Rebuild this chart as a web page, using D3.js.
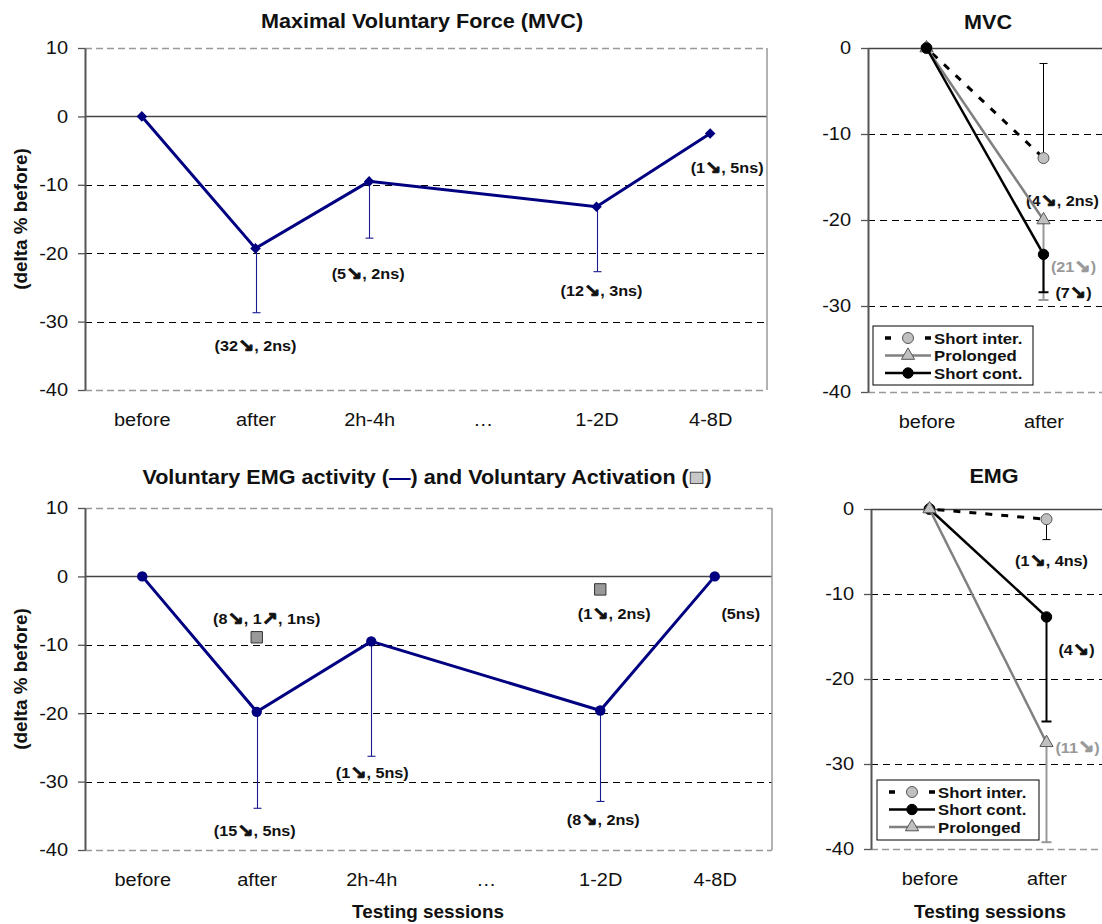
<!DOCTYPE html>
<html><head><meta charset="utf-8">
<script src="https://cdn.jsdelivr.net/npm/d3@7"></script>
<style>body{margin:0;background:#fff}</style>
</head><body><svg id="c" width="1102" height="924"></svg>
<script>
// ---------- DATA ----------
const sessions = ["before","after","2h-4h","…","1-2D","4-8D"];
const yTicksLeft = [10,0,-10,-20,-30,-40];
const mvcMean  = [0,-19.3,-9.5,null,-13.2,-2.5];
const mvcLow   = [null,-28.7,-17.8,null,-22.7,null];
const mvcNotes = [null,"(32↘, 2ns)","(5↘, 2ns)",null,"(12↘, 3ns)","(1↘, 5ns)"];
const emgMean  = [0,-19.8,-9.5,null,-19.6,0];
const emgLow   = [null,-33.9,-26.3,null,-32.9,null];
const emgNotes = [null,"(15↘, 5ns)","(1↘, 5ns)",null,"(8↘, 2ns)","(5ns)"];
const vaMean   = [null,-8.9,null,null,-1.9,null];
const vaNotes  = [null,"(8↘, 1↗, 1ns)",null,null,"(1↘, 2ns)",null];

const groups = ["before","after"];
const yTicksRight = [0,-10,-20,-30,-40];
const mvcNames = ["Short inter.","Prolonged","Short cont."];
const mvcShortInter = [0,-12.8], mvcShortInterErr = [null,-1.8];
const mvcProlonged  = [0,-20.0], mvcProlongedErr  = [null,-29.3];
const mvcShortCont  = [0,-24.0], mvcShortContErr  = [null,-28.4];
const mvcRightNotes = ["(4↘, 2ns)","(21↘)","(7↘)"];
const emgNames = ["Short inter.","Short cont.","Prolonged"];
const emgShortInter = [0,-1.2],  emgShortInterErr = [null,-3.6];
const emgShortCont  = [0,-12.7], emgShortContErr  = [null,-25.0];
const emgProlonged  = [0,-27.5], emgProlongedErr  = [null,-39.2];
const emgRightNotes = ["(1↘, 4ns)","(4↘)","(11↘)"];

// ---------- HELPERS ----------
const SX = 1.08;
const FF = '"Liberation Sans", Arial, Helvetica, sans-serif';
const svg = d3.select("#c");

function label(parent, x, y, s, o = {}) {
  return parent.append("text")
    .attr("transform", `translate(${x},${y})${o.rotate ? ` rotate(${o.rotate})` : ""} scale(${SX},1)`)
    .attr("text-anchor", o.anchor || "middle")
    .attr("dominant-baseline", "central")
    .attr("font-family", FF)
    .attr("font-size", o.size || 15)
    .attr("font-weight", o.bold ? "bold" : "normal")
    .attr("fill", o.fill || "#111")
    .text(s);
}
// note text with enlarged arrow glyphs
function note(parent, x, y, s, o = {}) {
  const t = label(parent, x, y, "", o);
  s.split(/([↘↗])/).forEach(part => {
    if (!part) return;
    const sp = t.append("tspan").text(part);
    if (part === "↘" || part === "↗")
      sp.attr("font-family", '"DejaVu Sans", sans-serif').attr("font-size", (o.size || 15) * 1.2)
        .attr("font-weight", "bold").attr("stroke", o.fill || "#111").attr("stroke-width", 0.9);
  });
  return t;
}

function panel(o) {
  const x = d3.scalePoint().domain(o.cats).range([o.left, o.right]).padding(0.5);
  const y = d3.scaleLinear().domain(o.yDomain).range([o.bottom, o.top]);
  const g = svg.append("g");
  const [lo, hi] = o.yDomain;
  o.ticks.forEach(t => {
    const yy = Math.round(y(t)) + 0.5;
    const ln = g.append("line").attr("x1", o.left).attr("x2", o.right)
      .attr("y1", yy).attr("y2", yy);
    if (t === 0) ln.attr("stroke", "#444").attr("stroke-width", 1.4);
    else if (t === lo || t === hi) ln.attr("stroke", "#999").attr("stroke-width", 1.5).attr("stroke-dasharray", "7,4");
    else ln.attr("stroke", "#000").attr("stroke-width", 1).attr("stroke-dasharray", "7,5");
  });
  if (o.rightBorder) g.append("line").attr("x1", o.right).attr("x2", o.right)
    .attr("y1", o.top).attr("y2", o.bottom).attr("stroke", "#999").attr("stroke-width", 1.5);
  const ax = g.append("g").attr("transform", `translate(${o.left},0)`)
    .call(d3.axisLeft(y).tickValues(o.ticks).tickSize(7).tickSizeOuter(0).tickPadding(10).tickFormat(d => String(d)));
  ax.select(".domain").attr("stroke", "#555").attr("stroke-width", 2);
  ax.selectAll(".tick line").attr("stroke", "#555").attr("stroke-width", 1.3);
  ax.selectAll(".tick text").attr("font-size", 18.5).attr("font-family", FF).attr("fill", "#111")
    .each(function () { const s = d3.select(this); s.attr("x", (+s.attr("x")) / SX).attr("transform", `scale(${SX},1)`); });
  const bx = g.append("g").attr("transform", `translate(0,${o.bottom})`)
    .call(d3.axisBottom(x).tickSize(0).tickPadding(o.xPad));
  bx.select(".domain").remove();
  bx.selectAll(".tick text").attr("font-size", 18.5).attr("font-family", FF).attr("fill", "#111")
    .attr("transform", `scale(${SX},1)`);
  return { x, y, g };
}

// ---------- LEFT PANELS ----------
function leftPanel(o, mean, low, notes, noteOff, marker) {
  const p = panel(o);
  const pts = sessions.map((c, i) => ({ c, v: mean[i], lo: low[i], note: notes[i], off: noteOff[i] }));
  const def = pts.filter(d => d.v !== null);
  def.filter(d => d.lo !== null).forEach(d => {
    const cx = Math.round(p.x(d.c)) + 0.5;
    p.g.append("line").attr("x1", cx).attr("x2", cx).attr("y1", p.y(d.v)).attr("y2", p.y(d.lo))
      .attr("stroke", "#1a1a90").attr("stroke-width", 1.1);
    p.g.append("line").attr("x1", cx - 4).attr("x2", cx + 4).attr("y1", p.y(d.lo)).attr("y2", p.y(d.lo))
      .attr("stroke", "#1a1a90").attr("stroke-width", 1.1);
  });
  p.g.append("path").datum(def)
    .attr("d", d3.line().x(d => p.x(d.c)).y(d => p.y(d.v)))
    .attr("fill", "none").attr("stroke", "#000080").attr("stroke-width", 3);
  const sym = marker === "diamond"
    ? d3.symbol().type(d3.symbolSquare).size(56)
    : d3.symbol().type(d3.symbolCircle).size(85);
  p.g.selectAll(".mk").data(def).join("path")
    .attr("d", sym)
    .attr("transform", d => `translate(${p.x(d.c)},${p.y(d.v)})${marker === "diamond" ? " rotate(45)" : ""}`)
    .attr("fill", "#000080");
  def.filter(d => d.note).forEach(d => {
    note(p.g, p.x(d.c) + d.off[0], p.y(d.v) + d.off[1], d.note, { size: 15, bold: true });
  });
  return p;
}

// Top-left: MVC
const pTL = leftPanel(
  { cats: sessions, left: 85, right: 767, top: 48, bottom: 390, yDomain: [-40, 10], ticks: yTicksLeft, rightBorder: true, xPad: 23 },
  mvcMean, mvcLow, mvcNotes,
  [null, [0, 97], [-1, 92], null, [5, 84], [17, 34]], "diamond");
label(svg, 422, 21, "Maximal Voluntary Force (MVC)", { size: 20, bold: true });
label(svg, 21, 219, "(delta % before)", { size: 17.5, bold: true, rotate: -90 });

// Bottom-left: EMG + VA
const pBL = leftPanel(
  { cats: sessions, left: 85, right: 772, top: 508, bottom: 850, yDomain: [-40, 10], ticks: yTicksLeft, rightBorder: true, xPad: 23 },
  emgMean, emgLow, emgNotes,
  [null, [-2, 118], [1, 131], null, [3, 109], [26, 37]], "circle");
const vaOff = [null, [10, -19], null, null, [14, 24], null];
sessions.forEach((c, i) => {
  if (vaMean[i] === null) return;
  const cx = pBL.x(c), cy = pBL.y(vaMean[i]);
  pBL.g.append("path").attr("d", d3.symbol().type(d3.symbolSquare).size(130))
    .attr("transform", `translate(${cx},${cy})`)
    .attr("fill", "#999").attr("stroke", "#333").attr("stroke-width", 1);
  note(pBL.g, cx + vaOff[i][0], cy + vaOff[i][1], vaNotes[i], { size: 15, bold: true });
});
{
  const t = label(svg, 427, 476, "", { size: 20, bold: true });
  t.append("tspan").text("Voluntary EMG activity (");
  t.append("tspan").attr("fill", "#000080").text("—");
  t.append("tspan").text(") and Voluntary Activation (");
  t.append("tspan").attr("fill", "#c8c8c8").attr("stroke", "#333").attr("stroke-width", 0.8)
    .attr("font-size", 24).text("■");
  t.append("tspan").text(")");
}
label(svg, 21, 679, "(delta % before)", { size: 17.5, bold: true, rotate: -90 });
label(svg, 428, 912, "Testing sessions", { size: 17.5, bold: true });

// ---------- RIGHT PANELS ----------
const styles = {
  "Short inter.": { stroke: "#000", width: 3, dash: "7,9", marker: "circle", fill: "#c0c0c0", mstroke: "#555",
                    ebStroke: "#000", ebWidth: 1, cap: 4, note: "#111" },
  "Prolonged":    { stroke: "#808080", width: 2.5, dash: null, marker: "triangle", fill: "#c0c0c0", mstroke: "#555",
                    ebStroke: "#999", ebWidth: 2, cap: 5, note: "#999" },
  "Short cont.":  { stroke: "#000", width: 2.5, dash: null, marker: "circle", fill: "#000", mstroke: "#000",
                    ebStroke: "#000", ebWidth: 2, cap: 5, note: "#111" }
};
function markerPath(st) {
  return st.marker === "triangle"
    ? d3.symbol().type(d3.symbolTriangle).size(75)()
    : d3.symbol().type(d3.symbolCircle).size(st.fill === "#000" ? 85 : 95)();
}
function rightPanel(o, names, series, errs, notes, noteOff, legendBox) {
  const p = panel(o);
  names.forEach((nm, k) => {
    const st = styles[nm];
    const vals = series[k], er = errs[k];
    groups.forEach((gname, i) => {
      if (er[i] === null) return;
      const cx = p.x(gname);
      p.g.append("line").attr("x1", cx).attr("x2", cx).attr("y1", p.y(vals[i])).attr("y2", p.y(er[i]))
        .attr("stroke", st.ebStroke).attr("stroke-width", st.ebWidth);
      p.g.append("line").attr("x1", cx - st.cap).attr("x2", cx + st.cap).attr("y1", p.y(er[i])).attr("y2", p.y(er[i]))
        .attr("stroke", st.ebStroke).attr("stroke-width", st.ebWidth);
    });
  });
  names.forEach((nm, k) => {
    const st = styles[nm];
    const data = groups.map((c, i) => ({ c, v: series[k][i] }));
    const path = p.g.append("path").datum(data)
      .attr("d", d3.line().x(d => p.x(d.c)).y(d => p.y(d.v)))
      .attr("fill", "none").attr("stroke", st.stroke).attr("stroke-width", st.width);
    if (st.dash) path.attr("stroke-dasharray", st.dash).attr("stroke-dashoffset", -8);
    p.g.selectAll(null).data(data).join("path")
      .attr("d", markerPath(st))
      .attr("transform", d => `translate(${p.x(d.c)},${p.y(d.v)})`)
      .attr("fill", st.fill).attr("stroke", st.mstroke).attr("stroke-width", 1);
    const last = data[data.length - 1];
    note(p.g, p.x(last.c) + noteOff[k][0], p.y(last.v) + noteOff[k][1], notes[k], { size: 15, bold: true, fill: st.note });
  });
  const lb = legendBox;
  const lg = p.g.append("g");
  lg.append("rect").attr("x", lb.x).attr("y", lb.y).attr("width", lb.w).attr("height", lb.h)
    .attr("fill", "#fff").attr("stroke", "#000").attr("stroke-width", 1);
  names.forEach((nm, k) => {
    const st = styles[nm];
    const ry = lb.y + 12 + k * 17.5;
    const x0 = lb.x + 12, x1 = lb.x + 58;
    const ln = lg.append("line").attr("x1", x0).attr("x2", x1).attr("y1", ry).attr("y2", ry)
      .attr("stroke", st.stroke).attr("stroke-width", st.width);
    if (st.dash) ln.attr("stroke-dasharray", "6,34,6").attr("stroke-width", 3.5);
    lg.append("path").attr("d", markerPath(st)).attr("transform", `translate(${(x0 + x1) / 2},${ry})`)
      .attr("fill", st.fill).attr("stroke", st.mstroke).attr("stroke-width", 1);
    label(lg, x1 + 3, ry, nm, { size: 15.5, bold: true, anchor: "start" });
  });
  return p;
}

rightPanel(
  { cats: groups, left: 868, right: 1102, top: 48, bottom: 392, yDomain: [-40, 0], ticks: yTicksRight, rightBorder: false, xPad: 23 },
  mvcNames, [mvcShortInter, mvcProlonged, mvcShortCont], [mvcShortInterErr, mvcProlongedErr, mvcShortContErr],
  mvcRightNotes, [[19, 42], [30, 46], [30, 38]],
  { x: 873, y: 326, w: 160, h: 59 });
label(svg, 988, 22, "MVC", { size: 20, bold: true });

rightPanel(
  { cats: groups, left: 871, right: 1105, top: 509, bottom: 849, yDomain: [-40, 0], ticks: yTicksRight, rightBorder: false, xPad: 23 },
  emgNames, [emgShortInter, emgShortCont, emgProlonged], [emgShortInterErr, emgShortContErr, emgProlongedErr],
  emgRightNotes, [[5, 41], [30, 32], [31, 4]],
  { x: 877, y: 780, w: 162, h: 60 });
label(svg, 994, 476, "EMG", { size: 20, bold: true });
label(svg, 990, 912, "Testing sessions", { size: 17.5, bold: true });
</script>
</body></html>
